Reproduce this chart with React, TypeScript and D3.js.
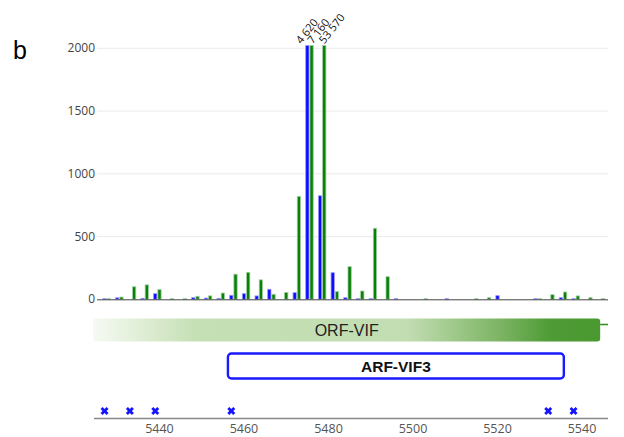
import React from "react";
import * as d3 from "d3";

const bluePositions = [5427,5430,5433,5436,5439,5442,5445,5448,5451,5454,5457,5460,5463,5466,5469,5472,5475,5478,5481,5484,5487,5490,5493,5496,5499,5502,5505,5508,5511,5514,5517,5520,5523,5526,5529,5532,5535,5538,5541,5544];
const blueValues = [3,12,0,8,45,0,0,13,10,8,32,45,27,80,0,53,4620,825,212,13,3,3,0,2,0,0,0,2,0,0,0,29,0,0,5,0,13,3,0,0];
const greenPositions = [5428,5431,5434,5437,5440,5443,5446,5449,5452,5455,5458,5461,5464,5467,5470,5473,5476,5479,5482,5485,5488,5491,5494,5497,5500,5503,5506,5509,5512,5515,5518,5521,5524,5527,5530,5533,5536,5539,5542,5545];
const greenValues = [5,18,100,115,77,4,3,24,27,50,200,215,155,40,55,820,7160,53570,61,260,66,566,180,0,0,3,0,0,0,3,13,0,0,0,3,37,58,27,13,2];
const markerPositions = [5427,5433,5439,5457,5532,5538];
const yTicks = [0,500,1000,1500,2000];
const xTicks = [5440,5460,5480,5500,5520,5540];
const orfLabel = "ORF-VIF";
const orfStart = 5424.3;
const orfEnd = 5544.3;
const arfLabel = "ARF-VIF3";
const arfStart = 5456.2;
const arfEnd = 5535.7;

const FONT = "'Open Sans', sans-serif";

export default function App() {
  const x = d3.scaleLinear().domain([5425, 5546.2]).range([96.1, 608.2]);
  const y = d3.scaleLinear().domain([0, 2000]).range([299.3, 48.3]);
  const yMax = 2000;
  const topY = 45.5;
  const bw = 3.3;
  const fmt = (v: number) => d3.format(",")(v).replace(/,/g, " ");

  const series = [
    { pos: bluePositions, vals: blueValues, fill: "#0a0aff", stroke: "#9a9aff" },
    { pos: greenPositions, vals: greenValues, fill: "#0a800a", stroke: "#9fd09f" },
  ];

  const bars: any[] = [];
  const labels: any[] = [];
  series.forEach((s, si) => {
    s.pos.forEach((p, i) => {
      const v = s.vals[i];
      if (v <= 0) return;
      const yt = v > yMax ? topY : y(v);
      const h = Math.max(0.6, y(0) - yt);
      bars.push(
        <rect key={`b${si}-${i}`} x={x(p) - bw / 2} y={y(0) - h} width={bw} height={h}
          fill={s.fill} stroke={s.stroke} strokeWidth={0.8} />
      );
      if (v > yMax) {
        labels.push({ p, v });
      }
    });
  });
  labels.sort((a, b) => a.p - b.p);
  const minGap = 11.5;
  let prev = -Infinity;
  labels.forEach((l) => {
    let lx = x(l.p) - 6;
    if (lx < prev + minGap) lx = prev + minGap;
    l.lx = lx;
    prev = lx;
  });

  const cross = d3.symbol().type(d3.symbolCross).size(40)();

  return (
    <svg width={624} height={437} style={{ position: "absolute", left: 0, top: 0, background: "#fff" }}>
      <defs>
        <linearGradient id="orfGrad" x1="0" x2="1" y1="0" y2="0">
          <stop offset="0%" stopColor="#f6faf3" />
          <stop offset="20%" stopColor="#c6e0b5" />
          <stop offset="62%" stopColor="#c2ddb2" />
          <stop offset="80%" stopColor="#7db565" />
          <stop offset="90%" stopColor="#4f9c36" />
          <stop offset="100%" stopColor="#4a9830" />
        </linearGradient>
      </defs>
      <text x={13} y={59} fontFamily="Arial, 'Liberation Sans', sans-serif" fontSize={25} fill="#000">b</text>

      {yTicks.map((t) => (
        <g key={`yt${t}`}>
          {t > 0 && <line x1={97} x2={608} y1={y(t)} y2={y(t)} stroke="#ececec" strokeWidth={1} />}
          <text x={95} y={y(t) + 4} textAnchor="end" fontFamily={FONT} fontSize={12} fill="#444">{t}</text>
        </g>
      ))}

      {bars}
      <line x1={97} x2={608} y1={y(0) + 0.5} y2={y(0) + 0.5} stroke="#444" strokeWidth={1} />

      {labels.map((l, i) => (
        <text key={`lab${i}`} transform={`translate(${l.lx},${topY - 1}) rotate(-52)`}
          fontFamily={FONT} fontSize={11} fill="#111">{fmt(l.v)}</text>
      ))}

      <rect x={x(orfStart)} y={318.5} width={x(orfEnd) - x(orfStart)} height={23} rx={3} fill="url(#orfGrad)" />
      <line x1={x(orfEnd)} x2={608} y1={324.5} y2={324.5} stroke="#2e8b1e" strokeWidth={1.5} />
      <text x={(x(orfStart) + x(orfEnd)) / 2} y={336} textAnchor="middle" fontFamily="Arial, 'Liberation Sans', sans-serif" fontSize={16} fill="#222">{orfLabel}</text>

      <rect x={x(arfStart)} y={353.5} width={x(arfEnd) - x(arfStart)} height={25} rx={3.5} fill="#fff" stroke="#1a1aff" strokeWidth={2.4} />
      <text x={(x(arfStart) + x(arfEnd)) / 2} y={372} textAnchor="middle" fontFamily="Arial, 'Liberation Sans', sans-serif" fontWeight="bold" fontSize={15.5} fill="#111">{arfLabel}</text>

      {markerPositions.map((p, i) => (
        <path key={`m${i}`} d={cross as string} transform={`translate(${x(p)},411) rotate(45)`} fill="#1414ff" />
      ))}

      <line x1={94} x2={608} y1={418.5} y2={418.5} stroke="#888" strokeWidth={1.3} />
      {xTicks.map((t) => (
        <text key={`xt${t}`} x={x(t)} y={432.5} textAnchor="middle" fontFamily={FONT} fontSize={12.5} fill="#555">{t}</text>
      ))}
    </svg>
  );
}
